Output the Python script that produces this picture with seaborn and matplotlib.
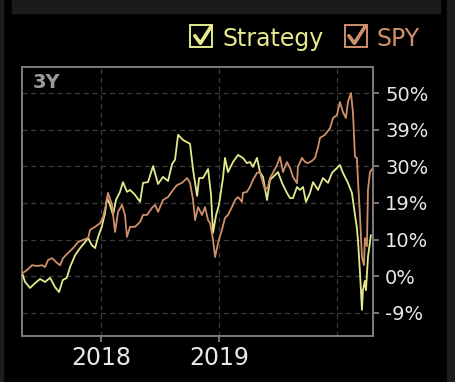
import pandas as pd
import numpy as np
import matplotlib
matplotlib.use("Agg")
import matplotlib.pyplot as plt
import matplotlib.dates as mdates
from matplotlib.patches import Rectangle
from matplotlib.lines import Line2D
import seaborn as sns

# values (decimal year, cumulative return in %)
strategy_t = [
    2017.336, 2017.356, 2017.398, 2017.441, 2017.483, 2017.525, 2017.568, 2017.610,
    2017.644, 2017.675, 2017.709, 2017.737, 2017.780, 2017.822, 2017.864, 2017.890,
    2017.921, 2017.949, 2017.975, 2018.006, 2018.034, 2018.051, 2018.076, 2018.102,
    2018.127, 2018.161, 2018.186, 2018.220, 2018.246, 2018.288, 2018.331, 2018.356,
    2018.398, 2018.441, 2018.483, 2018.525, 2018.568, 2018.602, 2018.627, 2018.653,
    2018.695, 2018.754, 2018.780, 2018.814, 2018.831, 2018.864, 2018.907, 2018.932,
    2018.949, 2018.975, 2019.000, 2019.034, 2019.051, 2019.076, 2019.119, 2019.161,
    2019.203, 2019.237, 2019.263, 2019.288, 2019.322, 2019.347, 2019.373, 2019.407,
    2019.432, 2019.475, 2019.500, 2019.534, 2019.576, 2019.602, 2019.627, 2019.661,
    2019.686, 2019.712, 2019.737, 2019.771, 2019.797, 2019.839, 2019.881, 2019.924,
    2019.958, 2020.000, 2020.025, 2020.051, 2020.093, 2020.127, 2020.153, 2020.169,
    2020.178, 2020.195, 2020.212, 2020.220, 2020.237, 2020.246, 2020.263, 2020.288,
]
strategy_v = [
    0.3, -1.6, -3.2, -1.9, -0.8, -1.6, -0.5, -3.0,
    -4.3, -1.1, -0.5, 2.4, 5.6, 7.5, 9.1, 10.2,
    8.3, 7.5, 10.5, 13.2, 16.9, 21.0, 19.1, 16.4,
    20.4, 22.6, 25.2, 22.6, 23.1, 21.8, 19.9, 25.0,
    25.2, 29.5, 24.7, 26.6, 25.5, 30.1, 31.2, 37.9,
    36.5, 35.5, 28.5, 21.5, 26.3, 26.3, 28.7, 21.8,
    11.6, 16.4, 19.1, 26.3, 31.7, 27.9, 30.6, 32.5,
    31.7, 30.3, 30.6, 29.3, 31.7, 27.9, 26.6, 20.4,
    25.8, 27.1, 27.9, 25.0, 22.3, 20.9, 20.9, 23.9,
    23.1, 23.9, 19.9, 22.3, 25.2, 23.1, 26.3, 25.0,
    27.7, 29.0, 29.8, 27.7, 25.0, 22.3, 16.4, 12.9,
    9.7, 1.1, -9.1, -3.8, -1.3, -3.8, 5.1, 11.0,
]

spy_t = [
    2017.336, 2017.373, 2017.415, 2017.458, 2017.500, 2017.525, 2017.551, 2017.585,
    2017.627, 2017.653, 2017.678, 2017.720, 2017.763, 2017.805, 2017.847, 2017.890,
    2017.907, 2017.949, 2017.992, 2018.017, 2018.042, 2018.059, 2018.093, 2018.119,
    2018.144, 2018.178, 2018.203, 2018.220, 2018.246, 2018.288, 2018.331, 2018.356,
    2018.390, 2018.432, 2018.458, 2018.483, 2018.525, 2018.568, 2018.610, 2018.644,
    2018.686, 2018.729, 2018.754, 2018.780, 2018.797, 2018.822, 2018.856, 2018.881,
    2018.907, 2018.924, 2018.949, 2018.966, 2018.992, 2019.025, 2019.051, 2019.076,
    2019.110, 2019.136, 2019.161, 2019.195, 2019.203, 2019.237, 2019.263, 2019.288,
    2019.322, 2019.347, 2019.390, 2019.415, 2019.432, 2019.458, 2019.492, 2019.517,
    2019.542, 2019.576, 2019.602, 2019.627, 2019.661, 2019.669, 2019.703, 2019.729,
    2019.754, 2019.788, 2019.814, 2019.839, 2019.856, 2019.898, 2019.941, 2019.966,
    2020.000, 2020.025, 2020.051, 2020.076, 2020.093, 2020.119, 2020.136, 2020.153,
    2020.169, 2020.178, 2020.195, 2020.212, 2020.229, 2020.237, 2020.254, 2020.263,
    2020.280, 2020.297,
]
spy_v = [
    0.8, 1.6, 2.9, 2.7, 2.9, 2.4, 4.3, 4.8,
    3.5, 2.9, 4.8, 6.2, 7.5, 9.1, 9.7, 10.2,
    12.4, 13.2, 14.2, 15.8, 19.1, 22.3, 19.1, 11.8,
    17.2, 19.1, 16.4, 10.5, 13.2, 13.2, 14.5, 16.4,
    16.4, 18.3, 19.1, 17.2, 20.4, 21.2, 23.1, 24.4,
    25.0, 26.3, 25.0, 20.4, 15.0, 18.5, 16.4, 18.5,
    15.0, 14.2, 9.7, 5.1, 8.9, 12.4, 15.6, 16.4,
    18.5, 20.4, 21.2, 19.9, 22.3, 22.6, 23.9, 25.8,
    27.7, 27.9, 23.1, 23.9, 26.3, 27.7, 29.8, 32.0,
    27.9, 30.6, 29.0, 26.6, 24.9, 29.3, 31.7, 30.6,
    30.3, 30.9, 31.7, 34.6, 37.1, 37.9, 39.7, 42.4,
    43.2, 46.7, 44.0, 42.4, 46.7, 49.1, 43.8, 32.0,
    31.7, 25.8, 16.4, 5.1, 2.9, 10.2, 8.0, 23.1,
    27.9, 28.7,
]

series_names = ["Strategy", "SPY"]
series_colors = ["#e4ea8c", "#cf8f6a"]
ytick_vals = [-9.8, 0, 9.8, 19.6, 29.4, 39.2, 49.0]
ytick_labels = ["-9%", "0%", "10%", "19%", "30%", "39%", "50%"]
period_label = "3Y"


def to_date(y):
    year = int(np.floor(y))
    start = pd.Timestamp(year=year, month=1, day=1)
    return start + pd.Timedelta(days=(y - year) * 365.25)


df = pd.concat([
    pd.DataFrame({"date": [to_date(t) for t in strategy_t], "ret": strategy_v, "name": "Strategy"}),
    pd.DataFrame({"date": [to_date(t) for t in spy_t], "ret": spy_v, "name": "SPY"}),
])

sns.set_theme(style="dark")
plt.rcParams["font.family"] = ["DejaVu Sans"]

fig = plt.figure(figsize=(4.56, 3.82), dpi=100, facecolor="black")
ax = fig.add_axes([22 / 456, 46 / 382, 350.7 / 456, 269 / 382])
ax.set_facecolor("black")

# frame bits around the widget
fig.patches.append(Rectangle((12 / 456, 369 / 382), 428 / 456, 13 / 382,
                             transform=fig.transFigure, color="#1b1b1b", zorder=0))
fig.patches.append(Rectangle((0, 0), 3 / 456, 1, transform=fig.transFigure,
                             color="#1c1c1c", zorder=0))
fig.patches.append(Rectangle((447 / 456, 0), 9 / 456, 1, transform=fig.transFigure,
                             color="#1c1c1c", zorder=0))

sns.lineplot(data=df, x="date", y="ret", hue="name", hue_order=series_names,
             palette=series_colors, linewidth=1.3, legend=False, ax=ax, zorder=3)

ax.set_xlim(to_date(2017.33), to_date(2020.303))
ax.set_ylim(-16.1, 56.1)

ax.set_yticks(ytick_vals, ytick_labels)
ax.yaxis.tick_right()
ax.set_xticks([pd.Timestamp("2018-01-01"), pd.Timestamp("2019-01-01")])
ax.xaxis.set_major_formatter(mdates.DateFormatter("%Y"))
ax.axvline(pd.Timestamp("2020-01-01"), color="#3c3c3c", linestyle=(0, (4, 3)), linewidth=0.9, zorder=1)

ax.tick_params(axis="y", colors="#8a8a8a", labelcolor="#e8e8e8", labelsize=14,
               length=4, width=1.2, pad=5, right=True, left=False)
ax.tick_params(axis="x", colors="#8a8a8a", labelcolor="#e8e8e8", labelsize=17,
               length=4, width=1.2, pad=3, bottom=True)
ax.grid(True, color="#3c3c3c", linestyle=(0, (4, 3)), linewidth=0.9)
ax.set_axisbelow(True)
for s in ax.spines.values():
    s.set_visible(True)
    s.set_color("#7c7c7c")
    s.set_linewidth(1.4)
ax.set_xlabel("")
ax.set_ylabel("")

ax.text(0.03, 0.978, period_label, transform=ax.transAxes, ha="left", va="top",
        fontsize=14, fontweight="bold", color="#9a9a9a")

# legend with check boxes
for name, color, bx, tx in [("Strategy", series_colors[0], 190.5, 222.5),
                            ("SPY", series_colors[1], 344.5, 376.5)]:
    x0 = bx / 456
    y0 = (382 - 46.5) / 382
    w = 22 / 456
    h = 21.5 / 382
    fig.patches.append(Rectangle((x0, y0), w, h, transform=fig.transFigure,
                                 fill=False, edgecolor=color, linewidth=1.4))
    fig.lines.append(Line2D([x0 + 0.2 * w, x0 + 0.45 * w, x0 + 0.95 * w],
                            [y0 + 0.5 * h, y0 + 0.15 * h, y0 + 0.95 * h],
                            transform=fig.transFigure, color=color, linewidth=2.6))
    fig.text(tx / 456, (382 - 46) / 382, name, ha="left", va="baseline",
             fontsize=17, color=color)

fig.savefig("out.png", dpi=100, facecolor="black")
